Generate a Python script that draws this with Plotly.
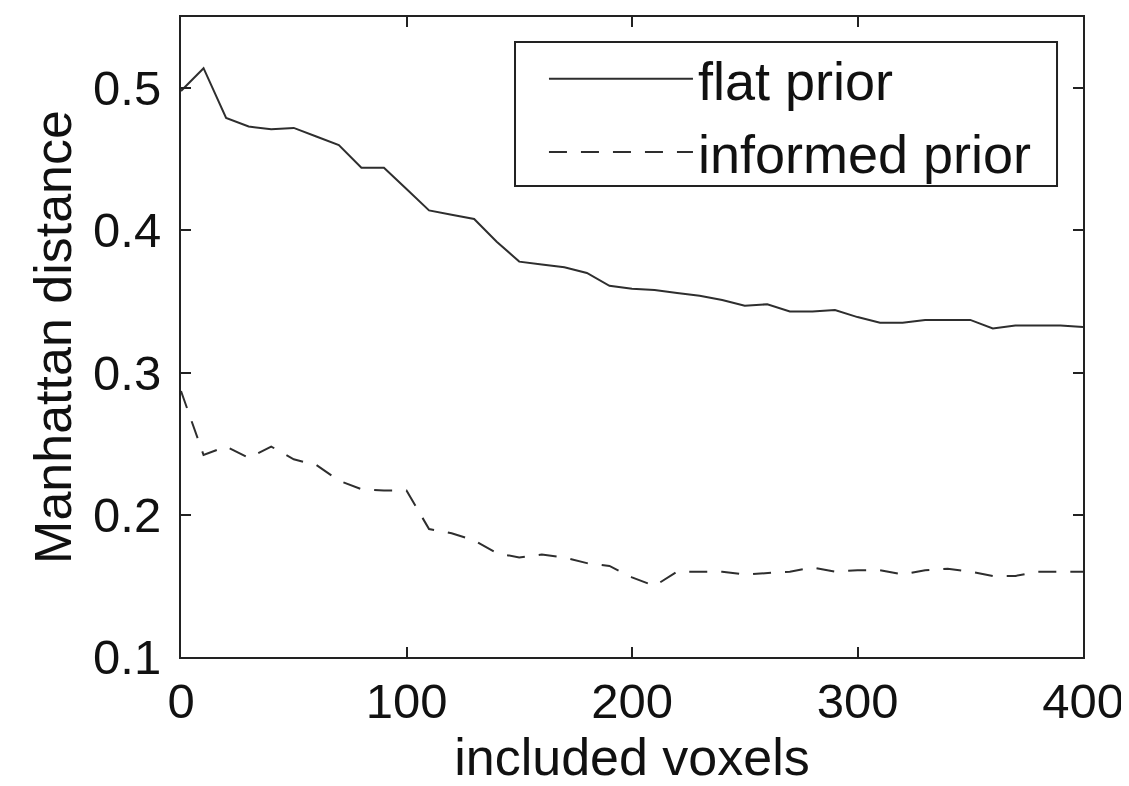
import plotly.graph_objects as go

voxels = list(range(0, 401, 10))
flat_prior = [0.498, 0.514, 0.479, 0.473, 0.471, 0.472, 0.466, 0.460, 0.444, 0.444,
              0.429, 0.414, 0.411, 0.408, 0.392, 0.378, 0.376, 0.374, 0.370, 0.361,
              0.359, 0.358, 0.356, 0.354, 0.351, 0.347, 0.348, 0.343, 0.343, 0.344,
              0.339, 0.335, 0.335, 0.337, 0.337, 0.337, 0.331, 0.333, 0.333, 0.333,
              0.332]
informed_prior = [0.287, 0.242, 0.248, 0.240, 0.248, 0.239, 0.235, 0.224, 0.218, 0.217,
                  0.217, 0.190, 0.187, 0.182, 0.173, 0.170, 0.172, 0.170, 0.166, 0.164,
                  0.156, 0.150, 0.160, 0.160, 0.160, 0.158, 0.159, 0.160, 0.163, 0.160,
                  0.161, 0.161, 0.158, 0.161, 0.162, 0.160, 0.157, 0.157, 0.160, 0.160,
                  0.160]
x_ticks = [0, 100, 200, 300, 400]
y_ticks = [0.1, 0.2, 0.3, 0.4, 0.5]

FONT = "Liberation Sans, Arial, sans-serif"
LINE = "#2e2e2e"

fig = go.Figure()
fig.add_trace(go.Scatter(x=voxels, y=flat_prior, mode="lines", name="flat prior",
                         line=dict(color=LINE, width=2)))
fig.add_trace(go.Scatter(x=voxels, y=informed_prior, mode="lines", name="informed prior",
                         line=dict(color=LINE, width=2, dash="18px,14px")))

axis_common = dict(showgrid=False, zeroline=False, showline=True, linecolor="#222",
                   linewidth=2, mirror="ticks", ticks="inside", ticklen=10,
                   tickwidth=1.5, tickcolor="#222", automargin=False,
                   tickfont=dict(family=FONT, size=49, color="#111"))

fig.update_xaxes(range=[0, 400], tickvals=x_ticks, ticktext=[str(v) for v in x_ticks],
                 title=dict(text="included voxels", font=dict(family=FONT, size=52, color="#111"),
                            standoff=0),
                 **axis_common)
fig.update_yaxes(range=[0.1, 0.55], tickvals=y_ticks, ticktext=[f"{v:.1f}" for v in y_ticks],
                 ticklabelstandoff=8,
                 title=dict(text="Manhattan distance", font=dict(family=FONT, size=52, color="#111"),
                            standoff=5),
                 **axis_common)

# legend frame
fig.add_shape(type="rect", xref="paper", yref="paper",
              x0=0.3703, x1=0.9712, y0=0.7359, y1=0.9609,
              line=dict(color="#222", width=2), fillcolor="white", layer="below")

fig.update_layout(
    width=1121, height=778,
    margin=dict(l=173, r=46, t=9, b=129),
    paper_bgcolor="white", plot_bgcolor="white",
    showlegend=True,
    legend=dict(x=0.4024, y=0.9686, xanchor="left", yanchor="top",
                bgcolor="rgba(0,0,0,0)", borderwidth=0,
                font=dict(family=FONT, size=54, color="#111"),
                itemwidth=144, tracegroupgap=0),
)

fig.write_html("out.html")
